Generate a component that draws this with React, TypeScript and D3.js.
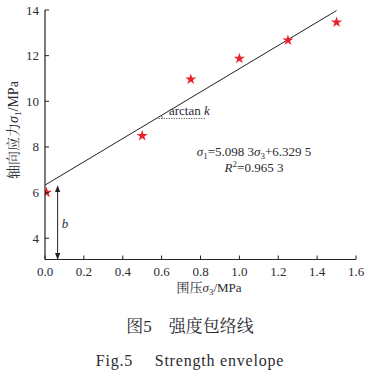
import React from "react";
import * as d3 from "d3";

const sigma3 = [0, 0.5, 0.75, 1.0, 1.25, 1.5];
const sigma1 = [6.0, 8.49, 10.96, 11.87, 12.67, 13.46];
const slope = 5.0983;
const intercept = 6.3295;
const xTicks = [0, 0.2, 0.4, 0.6, 0.8, 1.0, 1.2, 1.4, 1.6];
const yTicks = [4, 6, 8, 10, 12, 14];

const W = 367, H = 376;
const left = 45, right = 356, top = 10, bottom = 259.5;
const font = "'Liberation Serif', 'Times New Roman', serif";
const cjk = "'Noto Serif CJK SC', 'Noto Sans CJK SC', serif";
const col = "#2b2b33";

export default function App() {
  const x = d3.scaleLinear().domain([0, 1.6]).range([left, right]);
  const y = d3.scaleLinear().domain([3.07, 14]).range([bottom, top]);
  const star = d3.symbol().type(d3.symbolStar).size(38)();
  const fx = (v: number) => slope * v + intercept;
  const lineGen = d3.line<number>().x((d) => x(d)).y((d) => y(fx(d)));
  const arrowX = x(0.065);
  const yDot = 118.5;
  const xDotStart = x((y.invert(yDot) - intercept) / slope);
  return (
    <svg width={W} height={H} style={{ position: "absolute", left: 0, top: 0 }}>
      <defs>
        <marker id="ah" viewBox="0 0 10 10" refX="9" refY="5" markerWidth="7" markerHeight="7" orient="auto-start-reverse">
          <path d="M0,1 L10,5 L0,9 Z" fill="#222" />
        </marker>
        <clipPath id="plot">
          <rect x={left} y={0} width={right - left + 10} height={bottom} />
        </clipPath>
      </defs>
      {/* fit line */}
      <path d={lineGen([0, 1.5]) || ""} fill="none" stroke="#222" strokeWidth={1} />
      {/* stars */}
      <g clipPath="url(#plot)">
        {sigma3.map((v, i) => (
          <path key={i} d={star} transform={`translate(${x(v) + (i === 0 ? 1.5 : 0)},${y(sigma1[i])})`} fill="#e8232b" />
        ))}
      </g>
      {/* axes */}
      <line x1={left} x2={left} y1={top} y2={bottom} stroke="#222" strokeWidth={1.2} />
      <line x1={left} x2={right} y1={bottom} y2={bottom} stroke="#222" strokeWidth={1.2} />
      {xTicks.map((t) => (
        <g key={"x" + t}>
          <line x1={x(t)} x2={x(t)} y1={bottom} y2={bottom - 4} stroke="#222" strokeWidth={1} />
          <text x={x(t)} y={bottom + 16} textAnchor="middle" fontFamily={font} fontSize={13} fill={col}>
            {t.toFixed(1)}
          </text>
        </g>
      ))}
      {yTicks.map((t) => (
        <g key={"y" + t}>
          <line x1={left} x2={left + 4} y1={y(t)} y2={y(t)} stroke="#222" strokeWidth={1} />
          <text x={left - 6} y={y(t) + 4.5} textAnchor="end" fontFamily={font} fontSize={13} fill={col}>
            {t}
          </text>
        </g>
      ))}
      {/* arrow b */}
      <line x1={arrowX} x2={arrowX} y1={y(intercept) + 1} y2={bottom - 0.5} stroke="#222" strokeWidth={1}
        markerStart="url(#ah)" markerEnd="url(#ah)" />
      <text x={arrowX + 4} y={228} fontFamily={font} fontStyle="italic" fontSize={13} fill={col}>b</text>
      {/* arctan k */}
      <line x1={xDotStart} x2={205} y1={yDot} y2={yDot} stroke="#444" strokeWidth={1} strokeDasharray="1,1.5" />
      <path d={`M${xDotStart + 6},${yDot} A6,6 0 0,0 ${xDotStart + 5.3},${yDot - 3}`} fill="none" stroke="#444" strokeWidth={0.8} />
      <text x={169} y={115} fontFamily={font} fontSize={13} fill={col}>
        arctan <tspan fontStyle="italic">k</tspan>
      </text>
      {/* equation */}
      <text x={254} y={156} textAnchor="middle" fontFamily={font} fontSize={13} fill={col}>
        <tspan fontStyle="italic">σ</tspan><tspan fontSize={9} dy={3}>1</tspan>
        <tspan dy={-3}>=5.098 3</tspan><tspan fontStyle="italic">σ</tspan><tspan fontSize={9} dy={3}>3</tspan>
        <tspan dy={-3}>+6.329 5</tspan>
      </text>
      <text x={254} y={172} textAnchor="middle" fontFamily={font} fontSize={13} fill={col}>
        <tspan fontStyle="italic">R</tspan><tspan fontSize={9} dy={-5}>2</tspan><tspan dy={5}>=0.965 3</tspan>
      </text>
      {/* axis titles */}
      <text x={209} y={292} textAnchor="middle" fontFamily={font} fontSize={13} fill={col}>
        <tspan fontFamily={cjk}>围压</tspan><tspan fontStyle="italic">σ</tspan><tspan fontSize={9} dy={3}>3</tspan><tspan dy={-3}>/MPa</tspan>
      </text>
      <text transform={`translate(18,130) rotate(-90)`} textAnchor="middle" fontFamily={font} fontSize={14} fill={col}>
        <tspan fontFamily={cjk}>轴向应力</tspan><tspan fontStyle="italic">σ</tspan><tspan fontSize={9} dy={3}>1</tspan><tspan dy={-3}>/MPa</tspan>
      </text>
      {/* caption */}
      <text x={190} y={332} textAnchor="middle" fontFamily={cjk} fontSize={17} fill={col}>
        图<tspan fontFamily={font}>5</tspan>　强度包络线
      </text>
      <text x={190} y={366} textAnchor="middle" fontFamily={font} fontSize={16} fill={col} letterSpacing={0.8}>
        Fig.5　 Strength envelope
      </text>
    </svg>
  );
}
